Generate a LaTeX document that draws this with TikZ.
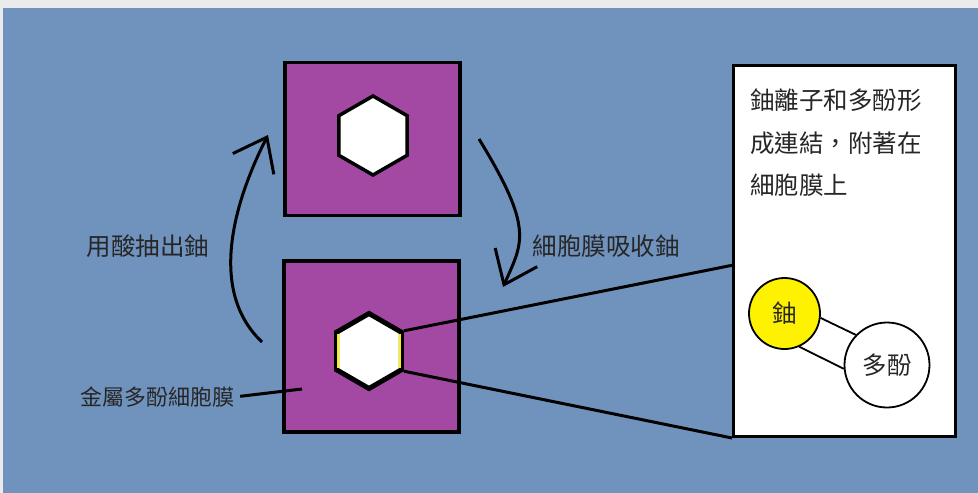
\documentclass[tikz,border=0pt]{standalone}
\usepackage{fontspec}
\newfontfamily\cjk{Noto Sans CJK TC}
\usetikzlibrary{arrows.meta,shapes.geometric,calc,positioning}
\definecolor{bgblue}{HTML}{7093BE}
\definecolor{membpurple}{HTML}{A349A4}
\definecolor{uyellow}{HTML}{FFF200}
\definecolor{framegray}{HTML}{EBEBEB}

\begin{document}
\begin{tikzpicture}[x=1pt,y=-1pt,
    membrane/.style={draw, line width=3.5pt, fill=membpurple, minimum width=175pt, minimum height=153pt, inner sep=0pt},
    hexa/.style={regular polygon, regular polygon sides=6, shape border rotate=30, draw, fill=white, line width=3.5pt, inner sep=0pt},
    lbl/.style={font=\cjk\fontsize{24.5}{30}\selectfont, text=black!85, inner sep=0pt},
    curly/.style={line width=3pt, -{Straight Barb[length=30pt,width=46pt]}},
    ball/.style={circle, draw, line width=1.8pt, inner sep=0pt}]
    % Same size as the screenshot
    \useasboundingbox (0,0) rectangle (978,493);
    \fill[framegray] (0,0) rectangle (978,493);
    \fill[bgblue] (3,8) rectangle (978,493);

    % Two membrane squares with the hexagons
    \node[membrane] (upper) at (372.5,139) {};
    \node[membrane, minimum height=171pt] (lower) at (371.5,346.5) {};
    \node[hexa, minimum size=79pt] (hexa) at (373,135.5) {};
    \node[hexa, minimum size=75pt, line width=5pt] (hexb) at (369,351) {};
    \draw[uyellow, line width=1.2pt] ($(hexb.corner 2)+(4,3)$) -- ($(hexb.corner 3)+(4,-3)$);
    \draw[uyellow, line width=1.2pt] ($(hexb.corner 6)+(-4,3)$) -- ($(hexb.corner 5)+(-4,-3)$);

    % Cycle arrows
    \coordinate (lstart) at (262,342);
    \coordinate (ltip) at (268,135);
    \coordinate (rstart) at (479,139);
    \coordinate (rtip) at (503,287);
    \draw[curly] (lstart) .. controls (207,290) and (235,200) .. (ltip);
    \draw[curly] (rstart) .. controls (534,229) and (523,242) .. (rtip);
    \node[lbl] (acid) at (148,246) {用酸抽出鈾};
    \node[lbl] (absorb) at (606,246) {細胞膜吸收鈾};

    % Label of the membrane
    \node[lbl, font=\cjk\fontsize{22}{26}\selectfont] (memlbl) at (157,397) {金屬多酚細胞膜};
    \coordinate (mempt) at (302,389);
    \draw[line width=3pt, shorten <=6pt] (memlbl.east) -- (mempt);

    % Zoomed box
    \node[draw, line width=3pt, fill=white, minimum width=222pt, minimum height=371pt, inner sep=0pt] (info) at (844.5,251) {};
    \node[lbl, font=\cjk\fontsize{24.5}{42.5}\selectfont, anchor=north west, align=left] (note) at (750,89)
      {鈾離子和多酚形\\成連結，附著在\\細胞膜上};
    \coordinate (zoomtop) at (733.5,265);
    \draw[line width=3pt] (hexb.corner 6) -- (zoomtop);
    \draw[line width=3pt] (hexb.corner 5) -- (info.south west);

    % Uranium bound to polyphenol
    \node[ball, lbl, fill=uyellow, minimum size=71pt] (uran) at (784.5,313.5) {鈾};
    \node[ball, lbl, fill=white, minimum size=85pt] (poly) at (887,365) {多酚};
    \draw[line width=1.8pt] (uran.-7) -- (poly.136);
    \draw[line width=1.8pt] (uran.-66) -- (poly.185);
\end{tikzpicture}
\end{document}
